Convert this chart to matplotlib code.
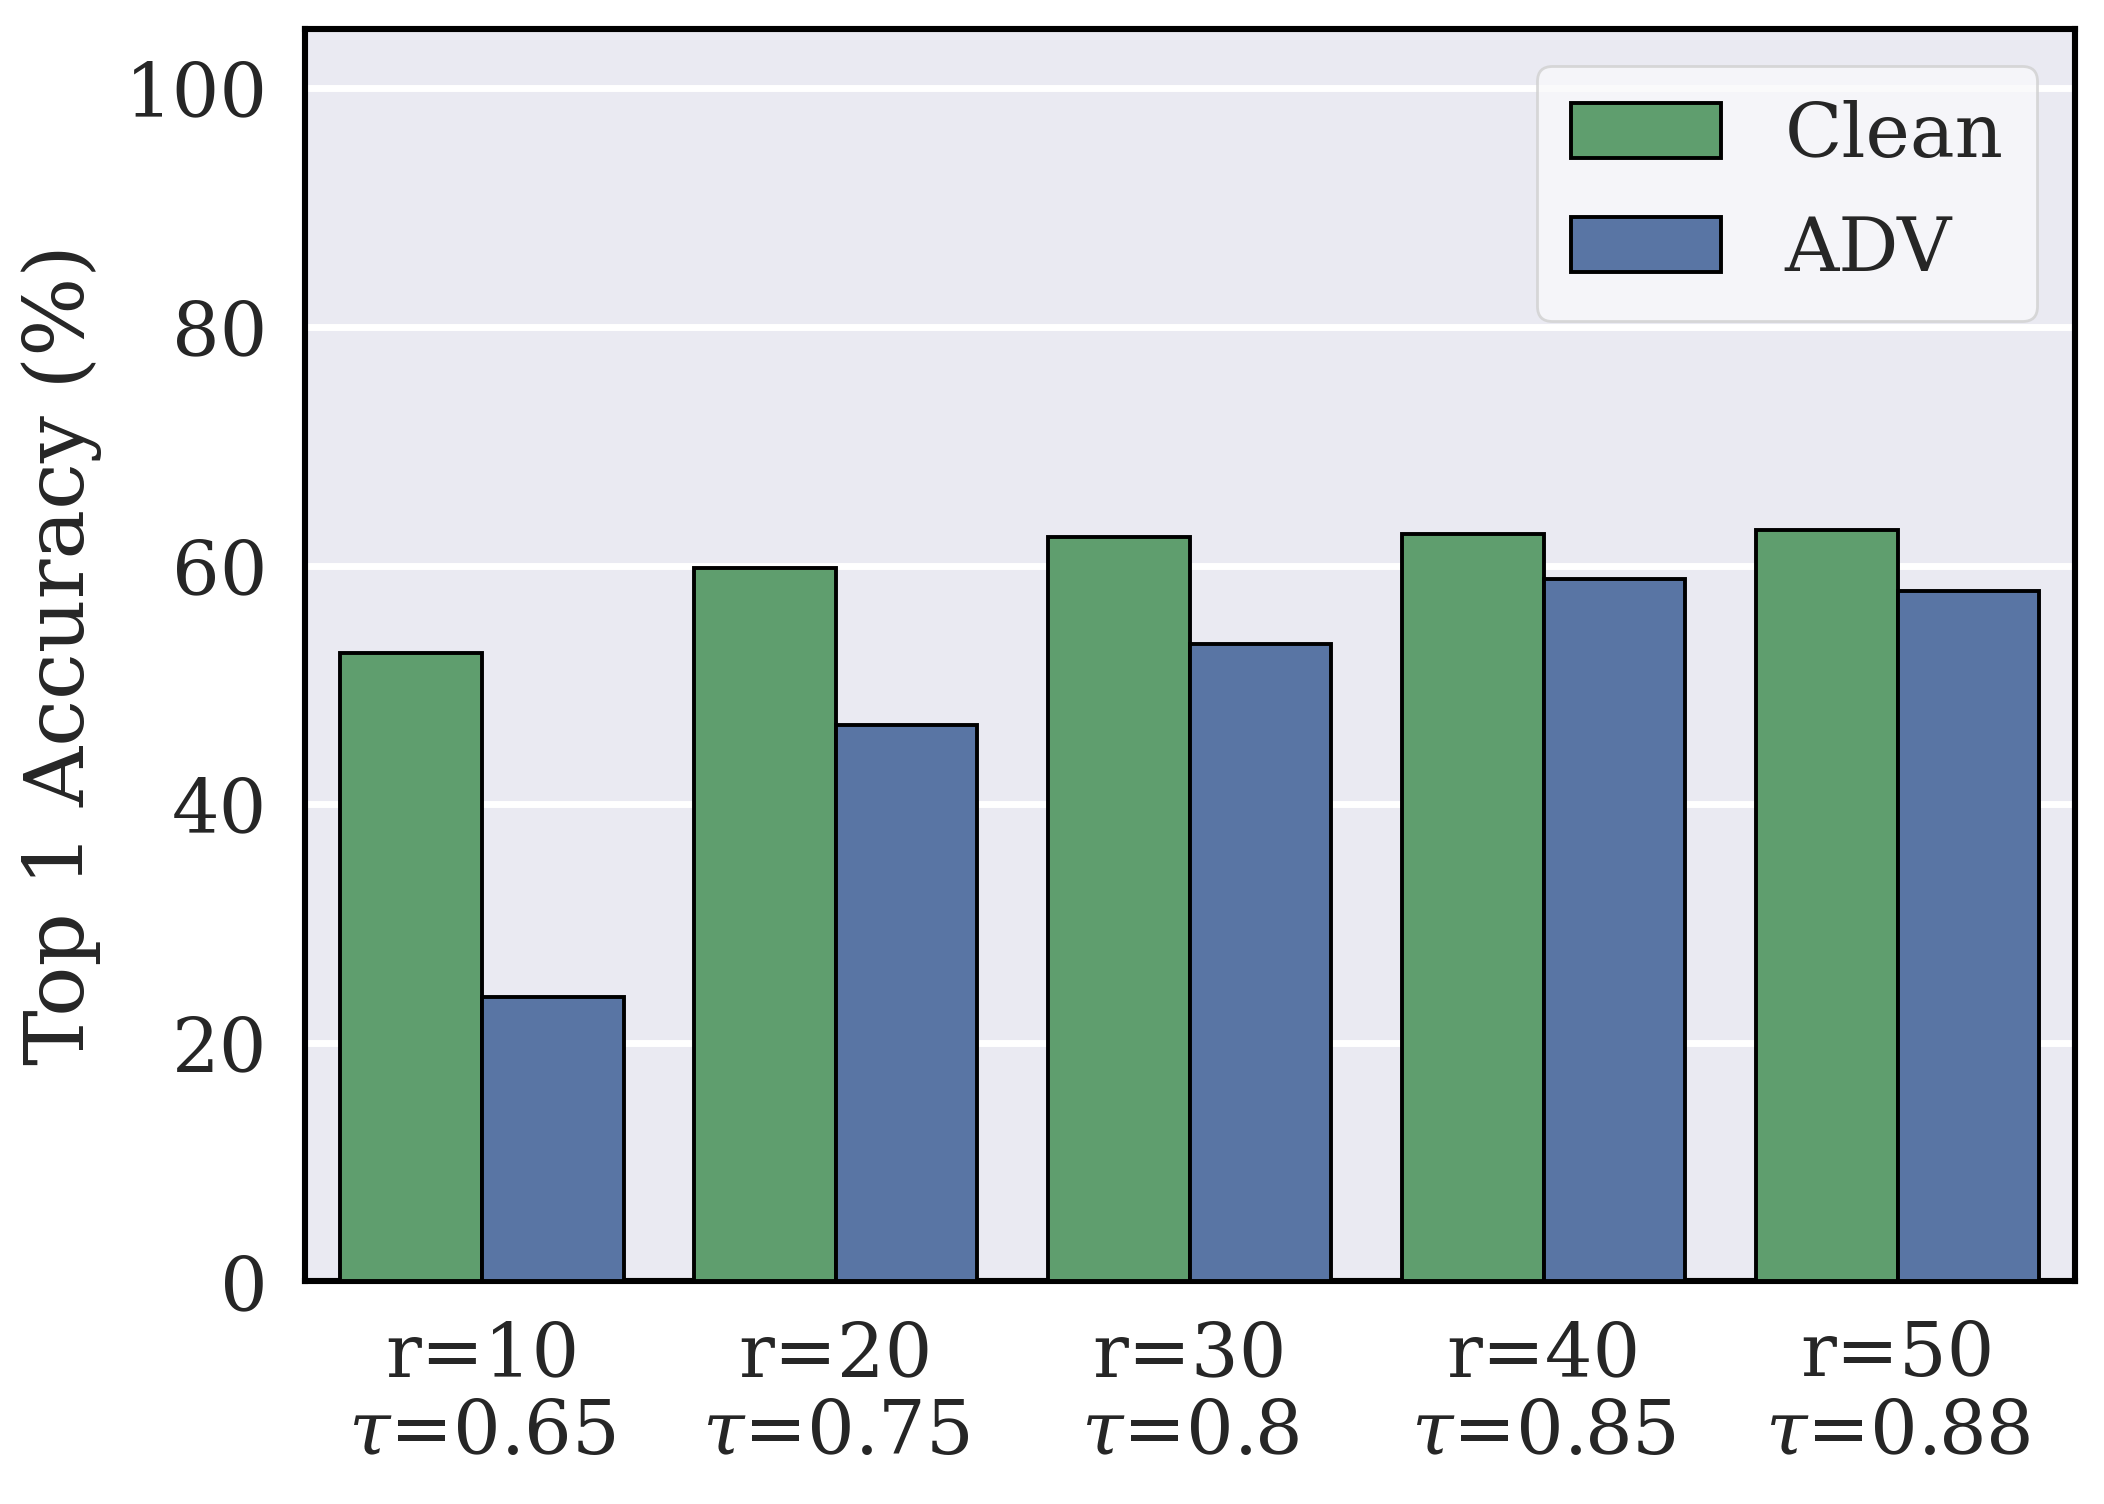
import numpy as np
import matplotlib
matplotlib.use('Agg')
import matplotlib.pyplot as plt
import seaborn as sns

# Data
settings = ['r=10\n$\\tau$=0.65', 'r=20\n$\\tau$=0.75', 'r=30\n$\\tau$=0.8',
            'r=40\n$\\tau$=0.85', 'r=50\n$\\tau$=0.88']
clean_acc = [52.7, 59.8, 62.4, 62.6, 63.0]
adv_acc = [23.8, 46.6, 53.4, 58.9, 57.9]
series_names = ['Clean', 'ADV']
series_colors = ['#5f9e6e', '#5975a4']

sns.set_style('darkgrid')
plt.rcParams['font.family'] = ['DejaVu Serif']
plt.rcParams['mathtext.fontset'] = 'dejavuserif'

fig = plt.figure(figsize=(10.52, 7.52), dpi=200)
ax = fig.add_axes([0.145, 0.148, 0.841, 0.833])

x = np.arange(len(settings))
width = 0.4
ax.bar(x - width / 2, clean_acc, width, color=series_colors[0], edgecolor='black',
       linewidth=1.4, label=series_names[0], zorder=3)
ax.bar(x + width / 2, adv_acc, width, color=series_colors[1], edgecolor='black',
       linewidth=1.4, label=series_names[1], zorder=3)

ax.set_xlim(-0.5, len(settings) - 0.5)
ax.set_ylim(0, 105)
ax.set_yticks([0, 20, 40, 60, 80, 100])
ax.set_xticks(x)
ax.set_xticklabels(settings, linespacing=1.1)
ax.tick_params(axis='both', labelsize=27, colors='#262626')
ax.tick_params(axis='y', pad=10)
ax.tick_params(axis='x', pad=10)
ax.grid(axis='x', visible=False)
ax.grid(axis='y', color='white', linewidth=2.5)
ax.set_ylabel('Top 1 Accuracy (%)', fontsize=30, color='#262626', labelpad=8)

for s in ax.spines.values():
    s.set_visible(True)
    s.set_color('black')
    s.set_linewidth(2.2)

leg = ax.legend(loc='upper right', fontsize=27, handlelength=2.0, handleheight=0.75,
                borderpad=0.45, labelspacing=0.55, handletextpad=0.85, frameon=True)
leg.get_frame().set_facecolor('#f9f9fb')
leg.get_frame().set_edgecolor('#d0d0d0')

fig.savefig('out.png', dpi=200)
